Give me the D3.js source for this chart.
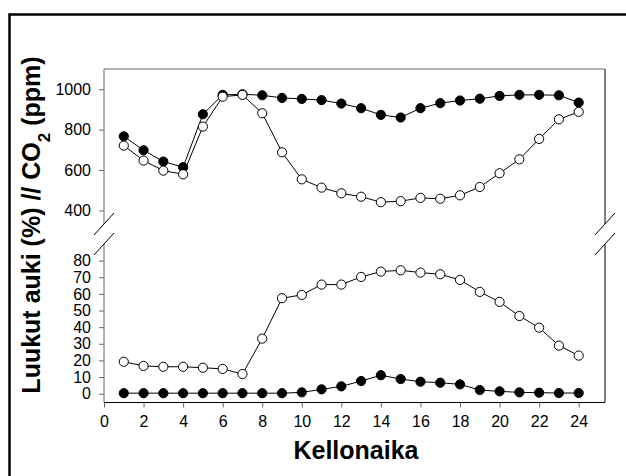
<!DOCTYPE html>
<html><head><meta charset="utf-8">
<script src="https://cdn.jsdelivr.net/npm/d3@7"></script>
<style>body{margin:0;background:#fff}svg{display:block}text{font-family:"Liberation Sans",Arial,sans-serif}</style>
</head><body>
<script>
const hours = d3.range(1, 25);
const co2Closed = [767,698,642,614,876,972,975,970,957,952,946,929,906,873,860,906,931,944,953,967,972,972,970,934];
const co2Open   = [721,647,597,579,815,963,972,881,688,554,513,485,468,441,446,462,458,475,516,584,653,754,851,888];
const hatchOpenA = [19.2,16.7,16.2,16.2,15.6,14.9,11.8,33.1,57.4,59.4,65.6,65.6,70.2,73.4,74.2,72.8,71.8,68.4,61.2,55.2,46.7,39.7,28.9,22.9];
const hatchOpenB = [0.3,0.3,0.3,0.3,0.3,0.3,0.3,0.3,0.3,0.8,2.6,4.4,7.6,11.1,8.8,7.2,6.6,5.6,2.2,1.4,0.8,0.6,0.4,0.4];
const xTicks = d3.range(0, 25, 2);
const upperTicks = [400,600,800,1000];
const lowerTicks = [0,10,20,30,40,50,60,70,80];

const W = 626, H = 476;
const svg = d3.select("body").append("svg").attr("width", W).attr("height", H);

const L = 104, R = 605, T = 69, UB = 224, LT = 244, B = 402.5;
const x = d3.scaleLinear().domain([0, 25.33]).range([L, R]);
const yU = d3.scaleLinear().domain([333, 1100]).range([UB, T]);
const yL = d3.scaleLinear().domain([-5.3, 90]).range([B, LT]);

// outer frame
svg.append("path").attr("d", `M9.5,${H} V14.5 H${W}`).attr("fill","none").attr("stroke","#000").attr("stroke-width",2.5);

// axes frame segments
const g = svg.append("g");
g.append("line").attr("x1",L).attr("x2",L).attr("y1",T).attr("y2",UB).attr("stroke","#666");
g.append("line").attr("x1",L).attr("x2",L).attr("y1",LT).attr("y2",B).attr("stroke","#666");
g.append("line").attr("x1",L).attr("x2",R).attr("y1",T).attr("y2",T).attr("stroke","#666");
g.append("line").attr("x1",R).attr("x2",R).attr("y1",T).attr("y2",UB).attr("stroke","#000");
g.append("line").attr("x1",R).attr("x2",R).attr("y1",LT).attr("y2",B).attr("stroke","#000");
g.append("line").attr("x1",L).attr("x2",R).attr("y1",B).attr("y2",B).attr("stroke","#000");

// break marks
[L, R].forEach(xx => {
  [UB, LT].forEach(yy => {
    g.append("line").attr("x1",xx-10).attr("y1",yy+11).attr("x2",xx+10).attr("y2",yy-11).attr("stroke","#000");
  });
});

function styleAxis(sel){
  sel.select(".domain").remove();
  sel.selectAll(".tick line").attr("stroke","#666");
  sel.selectAll(".tick text").attr("fill","#000").style("font-size","16px").style("font-family",'"Liberation Sans",Arial,sans-serif');
}
svg.append("g").attr("transform",`translate(${L},0)`)
  .call(d3.axisLeft(yU).tickValues(upperTicks).tickSize(5).tickPadding(8).tickFormat(d3.format("d"))).call(styleAxis);
svg.append("g").attr("transform",`translate(${L},0)`)
  .call(d3.axisLeft(yL).tickValues(lowerTicks).tickSize(5).tickPadding(8).tickFormat(d3.format("d"))).call(styleAxis);
svg.append("g").attr("transform",`translate(0,${B})`)
  .call(d3.axisBottom(x).tickValues(xTicks).tickSize(5).tickPadding(8).tickFormat(d3.format("d"))).call(styleAxis);

function series(vals, y, fill){
  const data = hours.map((h,i)=>[h, vals[i]]);
  svg.append("path").datum(data)
    .attr("d", d3.line().x(d=>x(d[0])).y(d=>y(d[1])))
    .attr("fill","none").attr("stroke","#000").attr("stroke-width",1);
  svg.append("g").selectAll("circle").data(data).join("circle")
    .attr("cx", d=>x(d[0])).attr("cy", d=>y(d[1])).attr("r",4.6)
    .attr("fill", fill).attr("stroke","#000").attr("stroke-width",1);
}
series(co2Closed, yU, "#000");
series(co2Open, yU, "#fff");
series(hatchOpenA, yL, "#fff");
series(hatchOpenB, yL, "#000");

svg.append("text").attr("x", 356).attr("y", 459).attr("text-anchor","middle")
  .style("font-size","25px").style("font-weight","bold").text("Kellonaika");

const yl = svg.append("text").attr("transform","translate(40,225) rotate(-90)").attr("text-anchor","middle")
  .style("font-size","25px").style("font-weight","bold");
yl.append("tspan").text("Luukut auki (%) // CO");
yl.append("tspan").attr("baseline-shift","sub").style("font-size","17px").text("2");
yl.append("tspan").text(" (ppm)");
</script>
</body></html>
